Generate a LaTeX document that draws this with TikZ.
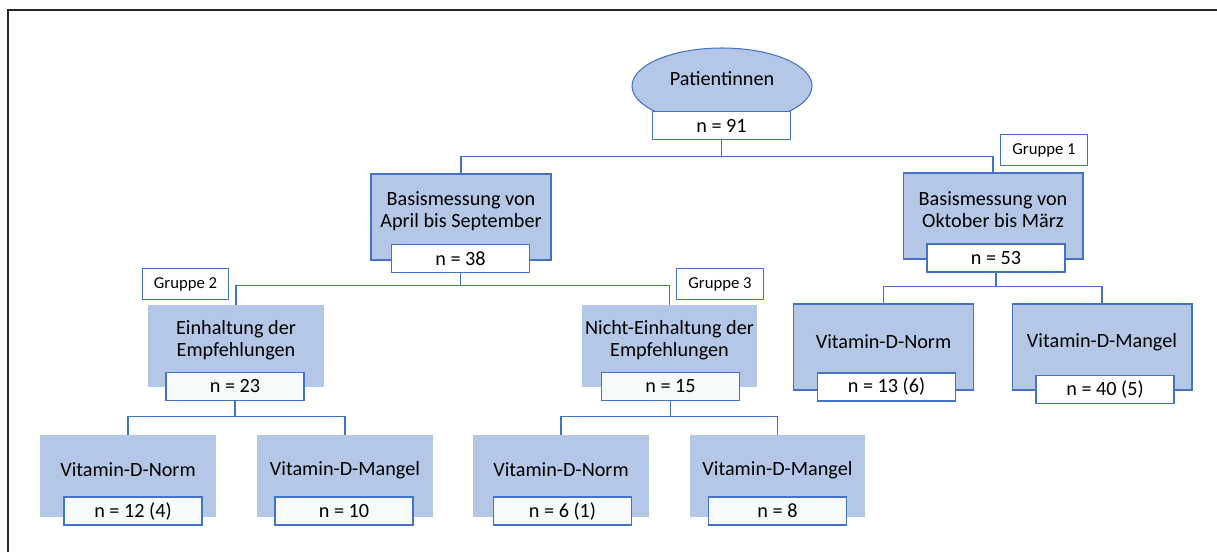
\documentclass[tikz,border=0pt]{standalone}
\usepackage{fontspec}
\setmainfont{Carlito}
\usetikzlibrary{calc,positioning,shapes.geometric}

\definecolor{boxblue}{HTML}{B4C7E7}
\definecolor{lineblue}{HTML}{4472C4}
\definecolor{nfill}{HTML}{F6FAFA}

\begin{document}
\begin{tikzpicture}[
    x=0.02cm, y=-0.02cm,
    mainbox/.style={rectangle, fill=boxblue, draw=lineblue, line width=0.6pt,
        minimum width=3.6cm, minimum height=1.72cm, inner sep=0pt},
    plainbox/.style={rectangle, fill=boxblue, minimum width=3.52cm,
        minimum height=1.64cm, inner sep=0pt},
    boxtext/.style={align=center, font=\fontsize{11.5}{12.6}\selectfont, inner sep=0pt},
    nbox/.style={rectangle, fill=white, draw=lineblue, line width=0.6pt,
        minimum width=2.76cm, minimum height=0.56cm, inner sep=0pt,
        font=\fontsize{11.5}{13}\selectfont},
    grpbox/.style={rectangle, fill=white, draw=lineblue, line width=0.6pt,
        minimum width=1.73cm, minimum height=0.62cm, inner sep=0pt,
        font=\fontsize{9.5}{11}\selectfont},
    link/.style={draw=lineblue, line width=0.6pt},
 ]
    \useasboundingbox (0,0) rectangle (1217,552);
    \draw[line width=1.2pt, black!85] (8,552) -- (8,10) -- (1217,10);

    % top
    \node[ellipse, fill=boxblue, draw=lineblue, line width=0.6pt,
        minimum width=3.6cm, minimum height=1.52cm] (pat) at (722,86) {};
    \node[boxtext] (patt) at (722,79) {Patientinnen};
    \node[nbox] (n91) at (721.5,125.5) {n = 91};

    % basismessung
    \node[mainbox] (aprl) at (461,217) {};
    \node[boxtext] (aprlt) at (461,211) {Basismessung von\\April bis September};
    \node[nbox] (n38) at (460.5,258.5) {n = 38};

    \node[mainbox] (oktb) at (993,216) {};
    \node[boxtext] (oktbt) at (993,209.5) {Basismessung von\\Oktober bis März};
    \node[nbox] (n53) at (996,258) {n = 53};
    \node[grpbox] (grp1) at (1044,150) {Gruppe 1};

    % empfehlungen
    \node[plainbox] (einh) at (236,346) {};
    \node[boxtext] (einht) at (236,340.5) {Einhaltung der\\Empfehlungen};
    \node[nbox, fill=nfill] (n23) at (235,386.5) {n = 23};
    \node[grpbox] (grp2) at (185.5,284) {Gruppe 2};

    \node[plainbox] (nein) at (669.5,346) {};
    \node[boxtext] (neint) at (669.5,340.5) {Nicht-Einhaltung der\\Empfehlungen};
    \node[nbox, fill=nfill] (n15) at (670.5,386.5) {n = 15};
    \node[grpbox] (grp3) at (720,284) {Gruppe 3};

    % vitamin d, lower row
    \node[plainbox] (norma) at (128,476) {};
    \node[boxtext] (normat) at (128,470) {Vitamin-D-Norm};
    \node[nbox, fill=nfill] (n12) at (133,511) {n = 12 (4)};

    \node[plainbox] (manga) at (345,476) {};
    \node[boxtext] (mangat) at (345,470) {Vitamin-D-Mangel};
    \node[nbox, fill=nfill] (n10) at (344,511) {n = 10};

    \node[plainbox] (normb) at (561,476) {};
    \node[boxtext] (normbt) at (561,470) {Vitamin-D-Norm};
    \node[nbox, fill=nfill] (n6) at (562.5,511) {n = 6 (1)};

    \node[plainbox] (mangb) at (777.5,476) {};
    \node[boxtext] (mangbt) at (777.5,470) {Vitamin-D-Mangel};
    \node[nbox, fill=nfill] (n8) at (777.5,511) {n = 8};

    % vitamin d, right
    \node[mainbox] (normc) at (883.5,347) {};
    \node[boxtext] (normct) at (883.5,342) {Vitamin-D-Norm};
    \node[nbox] (n13) at (886.5,387) {n = 13 (6)};

    \node[mainbox] (mangc) at (1102,347) {};
    \node[boxtext] (mangct) at (1102,342) {Vitamin-D-Mangel};
    \node[nbox] (n40) at (1105,389.5) {n = 40 (5)};

    % connectors
    \coordinate (j0) at ($(n91.south)+(0,16)$);
    \draw[link] (n91.south) -- (j0) -| (aprl.north);
    \draw[link] (j0) -| (oktb.north);

    \coordinate (j1) at ($(n38.south)+(0,12)$);
    \draw[link] (n38.south) -- (j1) -| (einh.north);
    \draw[link] (j1) -| (nein.north);

    \coordinate (j2) at ($(n53.south)+(0,14)$);
    \draw[link] (n53.south) -- (j2) -| (normc.north);
    \draw[link] (j2) -| (mangc.north);

    \coordinate (j3) at ($(n23.south)+(0,15)$);
    \draw[link] (n23.south) -- (j3) -| (norma.north);
    \draw[link] (j3) -| (manga.north);

    \coordinate (j4) at ($(n15.south)+(0,15)$);
    \draw[link] (n15.south) -- (j4) -| (normb.north);
    \draw[link] (j4) -| (mangb.north);
\end{tikzpicture}
\end{document}
